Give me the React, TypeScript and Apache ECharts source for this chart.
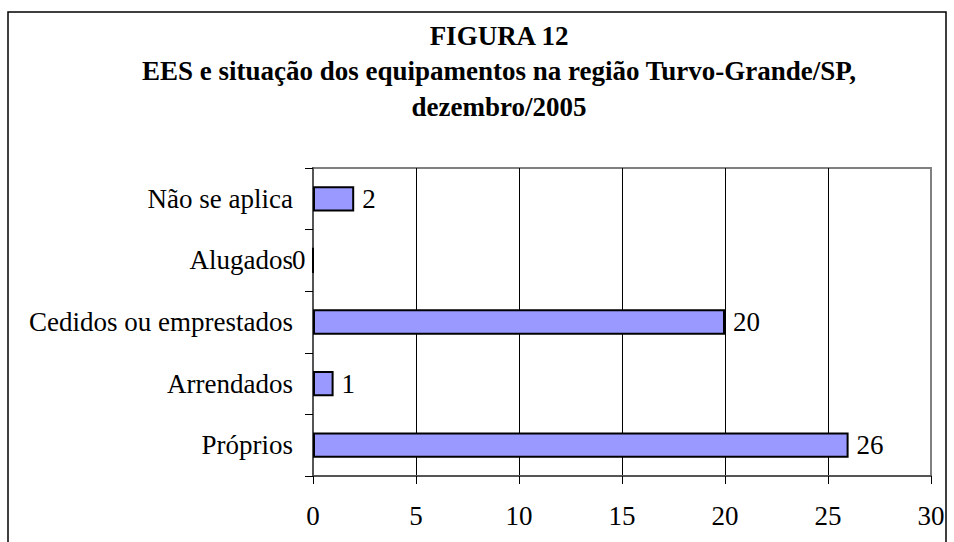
import React, { useEffect, useRef } from "react";
import * as echarts from "echarts";

const categories = ["Próprios", "Arrendados", "Cedidos ou emprestados", "Alugados", "Não se aplica"];
const values = [26, 1, 20, 0, 2];
const titleLines = ["FIGURA 12", "EES e situação dos equipamentos na região Turvo-Grande/SP,", "dezembro/2005"];
const xMin = 0;
const xMax = 30;
const xInterval = 5;

const FONT = '"Liberation Serif", "Times New Roman", serif';

export default function App() {
  const ref = useRef<HTMLDivElement>(null);
  useEffect(() => {
    if (!ref.current) return;
    const chart = echarts.init(ref.current, null, { renderer: "svg" });
    const data = values.map((v) =>
      v === 0
        ? { value: v, label: { offset: [-30, 0] } }
        : { value: v }
    );
    chart.setOption({
      animation: false,
      backgroundColor: "#ffffff",
      title: {
        text: titleLines.join("\n"),
        left: 494,
        top: 13,
        textAlign: "center",
        textStyle: {
          fontFamily: FONT,
          fontSize: 27,
          fontWeight: "bold",
          color: "#000",
          lineHeight: 35.5,
        },
      },
      graphic: [
        {
          type: "rect",
          shape: { x: 8, y: 12, width: 938, height: 600 },
          style: { fill: "none", stroke: "#000", lineWidth: 1.5 },
          silent: true,
          z: 0,
        },
      ],
      grid: {
        left: 313,
        right: 23,
        top: 168,
        bottom: 66,
        show: true,
        borderColor: "#808080",
        borderWidth: 2,
        containLabel: false,
      },
      xAxis: {
        type: "value",
        min: xMin,
        max: xMax,
        interval: xInterval,
        axisLine: { show: true, lineStyle: { color: "#555", width: 2 } },
        axisTick: { show: true, inside: false, length: 8, lineStyle: { color: "#000", width: 1 } },
        axisLabel: { fontFamily: FONT, fontSize: 27, color: "#000", margin: 26 },
        splitLine: {
          show: true,
          lineStyle: { color: ["#808080", "#000", "#000", "#000", "#000", "#000", "#808080"], width: 1 },
        },
      },
      yAxis: {
        type: "category",
        data: categories,
        axisLine: { show: true, lineStyle: { color: "#555", width: 2 } },
        axisTick: { show: true, inside: false, length: 8, alignWithLabel: false, lineStyle: { color: "#000", width: 1 } },
        axisLabel: { fontFamily: FONT, fontSize: 27, color: "#000", margin: 20 },
        splitLine: { show: false },
      },
      series: [
        {
          type: "bar",
          data,
          barCategoryGap: "59%",
          itemStyle: { color: "#9999FF", borderColor: "#000", borderWidth: 2 },
          label: {
            show: true,
            position: "right",
            distance: 8,
            fontFamily: FONT,
            fontSize: 27,
            color: "#000",
          },
        },
      ],
    });
    return () => chart.dispose();
  }, []);
  return (
    <div
      ref={ref}
      style={{ position: "fixed", left: 0, top: 0, width: 954, height: 542 }}
    />
  );
}
